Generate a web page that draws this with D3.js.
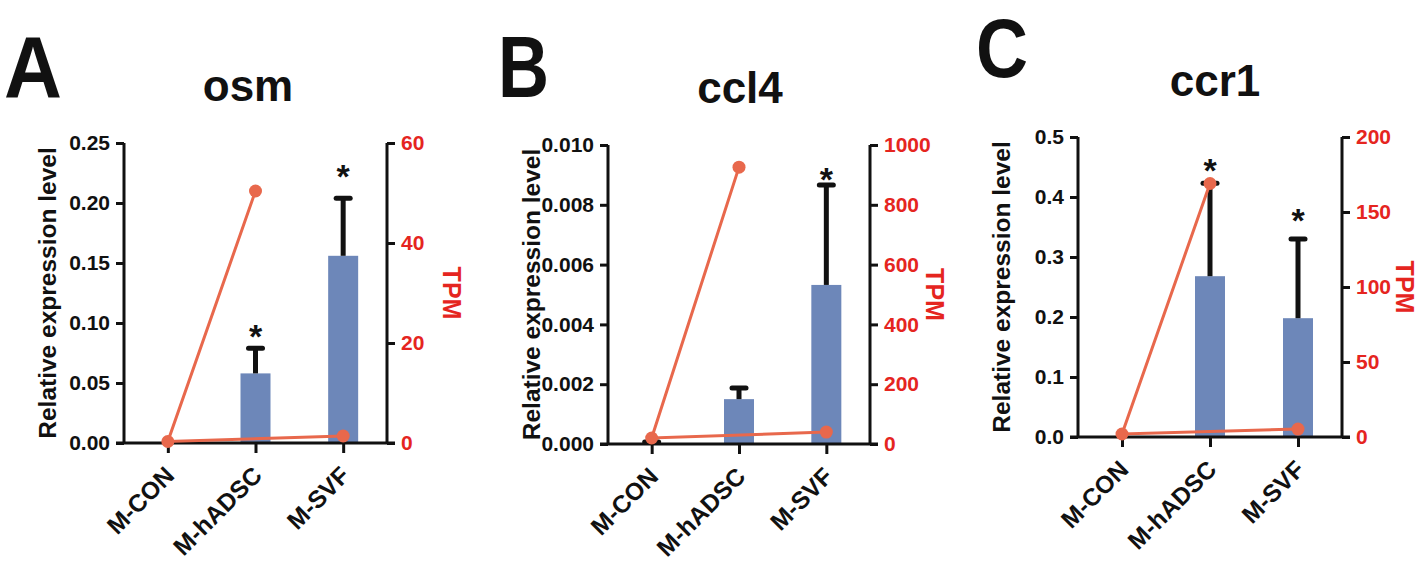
<!DOCTYPE html>
<html>
<head>
<meta charset="utf-8">
<script src="https://cdn.jsdelivr.net/npm/d3@7"></script>
<style>
  html, body { margin: 0; padding: 0; background: #fff; }
  svg { display: block; }
  text { font-family: "Liberation Sans", Arial, sans-serif; font-weight: bold; }
</style>
</head>
<body>
<script>
// ---------- data ----------
const categories = ["M-CON", "M-hADSC", "M-SVF"];
const lineOrder = ["M-hADSC", "M-CON", "M-SVF"];

const osmExpr = [0, 0.058, 0.156];
const osmErr  = [0, 0.021, 0.048];
const osmTPM  = [0.3, 50.4, 1.4];
const osmStars = [null, 0.095, 0.228];
const osmLeftTicks = [0, 0.05, 0.10, 0.15, 0.20, 0.25];
const osmRightTicks = [0, 20, 40, 60];

const ccl4Expr = [0.00003, 0.0015, 0.00532];
const ccl4Err  = [0.00004, 0.00037, 0.00334];
const ccl4TPM  = [20, 926, 40];
const ccl4Stars = [null, null, 0.0091];
const ccl4LeftTicks = [0, 0.002, 0.004, 0.006, 0.008, 0.010];
const ccl4RightTicks = [0, 200, 400, 600, 800, 1000];

const ccr1Expr = [0, 0.268, 0.198];
const ccr1Err  = [0, 0.155, 0.132];
const ccr1TPM  = [2, 169, 5.3];
const ccr1Stars = [null, 0.457, 0.373];
const ccr1LeftTicks = [0, 0.1, 0.2, 0.3, 0.4, 0.5];
const ccr1RightTicks = [0, 50, 100, 150, 200];

const panelLetters = ["A", "B", "C"];
const genes = ["osm", "ccl4", "ccr1"];

// ---------- layout ----------
const W = 1418, H = 561;
const BAR = "#6d87b9", LINE = "#e8684c", RED = "#e5251f", INK = "#111";

const svg = d3.select("body").append("svg").attr("width", W).attr("height", H);

const panels = [
  { letter: panelLetters[0], gene: genes[0], expr: osmExpr, err: osmErr, tpm: osmTPM, stars: osmStars,
    lt: osmLeftTicks, rt: osmRightTicks, lfmt: d3.format(".2f"),
    L: 124, R: 387, T: 143, B: 443, letterX: 4, letterY: 97, letterW: 58, letterFs: 88, titleX: 248, titleY: 101, tpmDx: 56 },
  { letter: panelLetters[1], gene: genes[1], expr: ccl4Expr, err: ccl4Err, tpm: ccl4TPM, stars: ccl4Stars,
    lt: ccl4LeftTicks, rt: ccl4RightTicks, lfmt: d3.format(".3f"),
    L: 608, R: 870, T: 145, B: 444, letterX: 498, letterY: 97, letterW: 51, letterFs: 88, titleX: 740, titleY: 103, tpmDx: 56 },
  { letter: panelLetters[2], gene: genes[2], expr: ccr1Expr, err: ccr1Err, tpm: ccr1TPM, stars: ccr1Stars,
    lt: ccr1LeftTicks, rt: ccr1RightTicks, lfmt: d3.format(".1f"),
    L: 1078, R: 1342, T: 137, B: 437, letterX: 976, letterY: 77, letterW: 52, letterFs: 84, titleX: 1215, titleY: 96, tpmDx: 54 }
];

panels.forEach(p => {
  const g = svg.append("g");
  const x = d3.scalePoint().domain(categories).range([p.L, p.R]).padding(0.5);
  const yL = d3.scaleLinear().domain([p.lt[0], p.lt[p.lt.length - 1]]).range([p.B, p.T]);
  const yR = d3.scaleLinear().domain([p.rt[0], p.rt[p.rt.length - 1]]).range([p.B, p.T]);

  // panel letter
  g.append("text").attr("x", p.letterX).attr("y", p.letterY)
    .attr("font-size", p.letterFs).attr("fill", INK)
    .attr("textLength", p.letterW).attr("lengthAdjust", "spacingAndGlyphs")
    .text(p.letter);
  // title
  g.append("text").attr("x", p.titleX).attr("y", p.titleY)
    .attr("text-anchor", "middle").attr("font-size", 44).attr("fill", INK)
    .text(p.gene);

  // bars
  const barW = 30;
  const rows = categories.map((c, i) => ({ c, v: p.expr[i], e: p.err[i], t: p.tpm[i], s: p.stars[i] }));
  g.selectAll("rect.bar").data(rows).join("rect")
    .attr("x", d => x(d.c) - barW / 2).attr("width", barW)
    .attr("y", d => yL(d.v)).attr("height", d => yL(0) - yL(d.v))
    .attr("fill", BAR);

  // error bars
  const eb = g.selectAll("g.err").data(rows.filter(d => d.e > 0)).join("g");
  eb.append("line")
    .attr("x1", d => x(d.c)).attr("x2", d => x(d.c))
    .attr("y1", d => yL(d.v)).attr("y2", d => yL(d.v + d.e))
    .attr("stroke", INK).attr("stroke-width", 5);
  eb.append("line")
    .attr("x1", d => x(d.c) - 7).attr("x2", d => x(d.c) + 7)
    .attr("y1", d => yL(d.v + d.e)).attr("y2", d => yL(d.v + d.e))
    .attr("stroke", INK).attr("stroke-width", 5).attr("stroke-linecap", "round");

  // stars
  g.selectAll("text.star").data(rows.filter(d => d.s != null)).join("text")
    .attr("x", d => x(d.c)).attr("y", d => yL(d.s) + 19)
    .attr("text-anchor", "middle").attr("font-size", 34).attr("fill", INK)
    .text("*");

  // axes
  const leftAxis = d3.axisLeft(yL).tickValues(p.lt).tickFormat(p.lfmt).tickSize(8).tickPadding(6);
  const gl = g.append("g").attr("transform", `translate(${p.L},0)`).call(leftAxis);
  const rightAxis = d3.axisRight(yR).tickValues(p.rt).tickFormat(d3.format("d")).tickSize(8).tickPadding(6);
  const gr = g.append("g").attr("transform", `translate(${p.R},0)`).call(rightAxis);
  const bottomAxis = d3.axisBottom(x).tickSize(10).tickFormat("");
  const gb = g.append("g").attr("transform", `translate(0,${p.B})`).call(bottomAxis);

  [gl, gr, gb].forEach(a => {
    a.select(".domain").attr("stroke", INK).attr("stroke-width", 3);
    a.selectAll(".tick line").attr("stroke", INK).attr("stroke-width", 3);
    a.selectAll("text").attr("font-family", "Liberation Sans, Arial, sans-serif").attr("font-weight", "bold");
  });
  gb.select(".domain").remove();
  gb.append("line").attr("x1", p.L - 8).attr("x2", p.R + 8).attr("y1", 0).attr("y2", 0)
    .attr("stroke", INK).attr("stroke-width", 3);
  gl.select(".domain").attr("d", `M0,${p.T}V${p.B}`);
  gr.select(".domain").attr("d", `M0,${p.T}V${p.B}`);
  gl.selectAll("text").attr("font-size", 21).attr("fill", INK);
  gr.selectAll("text").attr("font-size", 21).attr("fill", RED);

  // x labels
  categories.forEach(c => {
    g.append("text")
      .attr("transform", `translate(${x(c) + 8},${p.B + 34}) rotate(-45)`)
      .attr("text-anchor", "end").attr("font-size", 24.5).attr("fill", INK)
      .text(c);
  });

  // y labels
  g.append("text")
    .attr("transform", `translate(${p.L - 68},${(p.T + p.B) / 2}) rotate(-90)`)
    .attr("text-anchor", "middle").attr("font-size", 24.5).attr("fill", INK)
    .text("Relative expression level");
  g.append("text")
    .attr("transform", `translate(${p.R + p.tpmDx},${(p.T + p.B) / 2}) rotate(90)`)
    .attr("text-anchor", "middle").attr("font-size", 25).attr("fill", RED)
    .text("TPM");

  // TPM line
  const pts = lineOrder.map(c => ({ c, t: p.tpm[categories.indexOf(c)] }));
  g.append("path").datum(pts)
    .attr("d", d3.line().x(d => x(d.c)).y(d => yR(d.t)))
    .attr("fill", "none").attr("stroke", LINE).attr("stroke-width", 3);
  g.selectAll("circle.pt").data(pts).join("circle")
    .attr("cx", d => x(d.c)).attr("cy", d => yR(d.t)).attr("r", 6.5)
    .attr("fill", LINE);
});
</script>
</body>
</html>
